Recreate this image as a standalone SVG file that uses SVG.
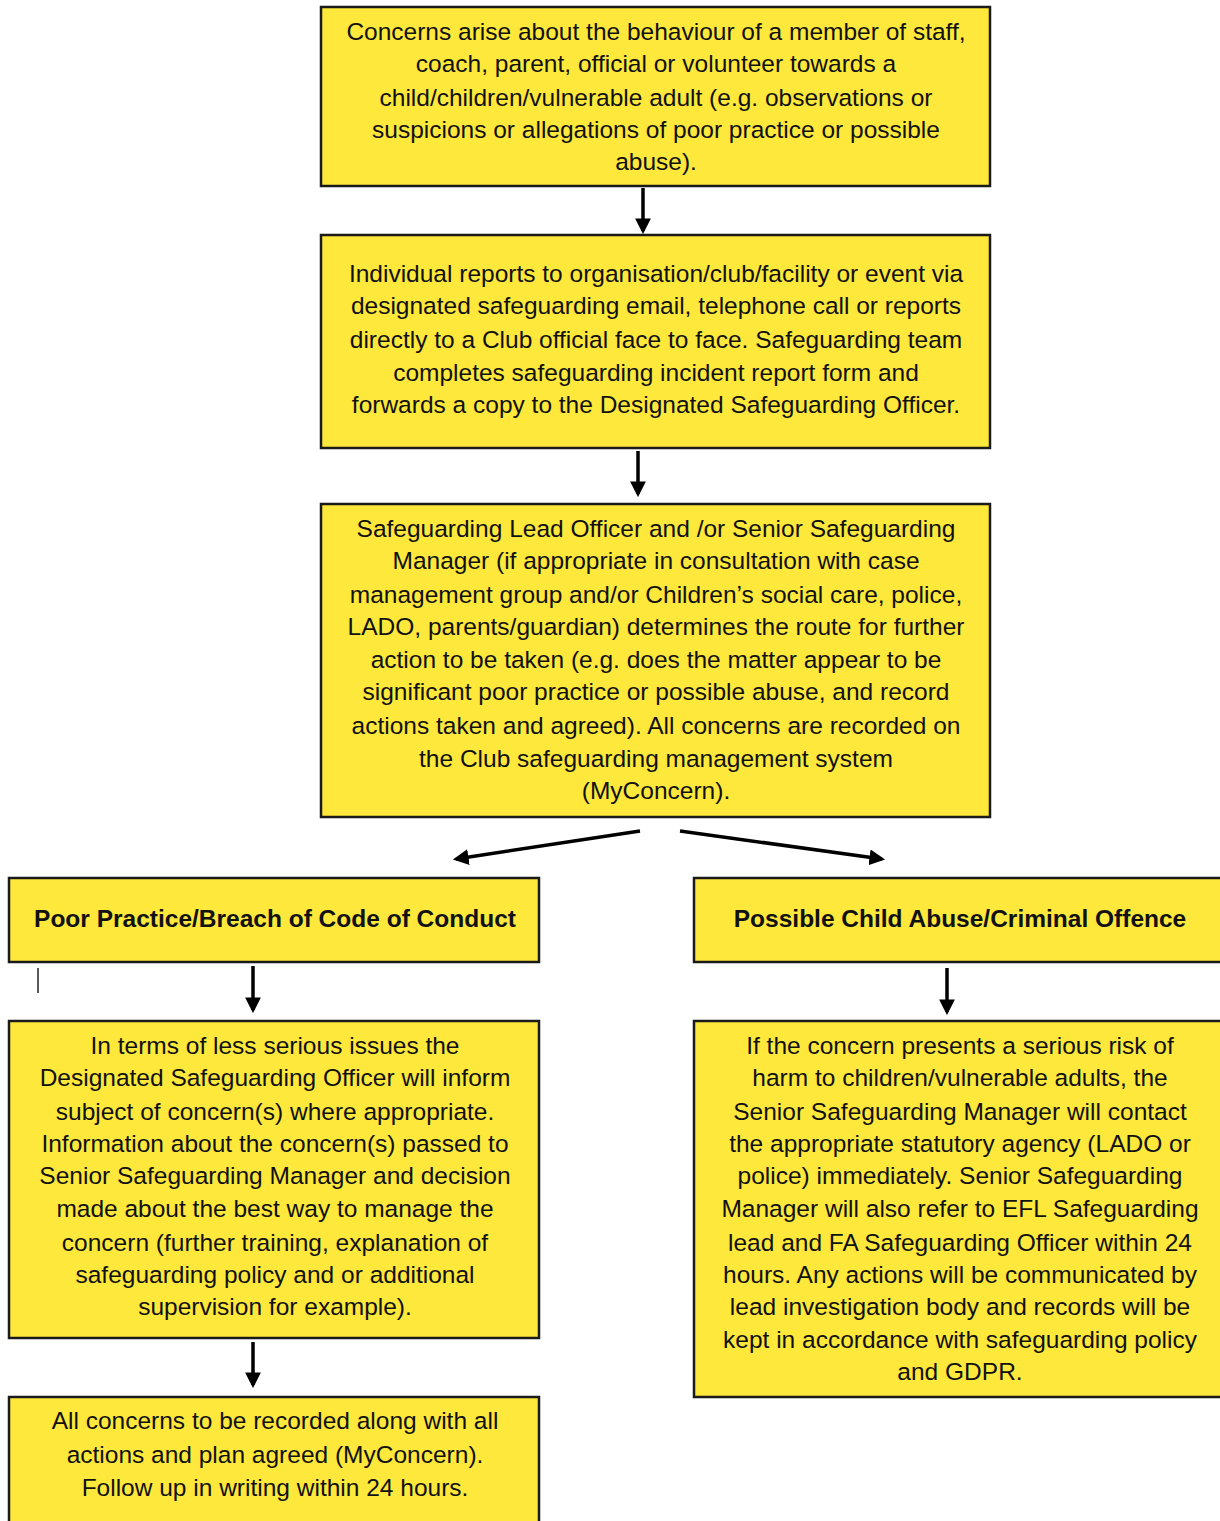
<svg xmlns="http://www.w3.org/2000/svg" width="1220" height="1521" viewBox="0 0 1220 1521">
<defs>
<style>
.box{fill:#FDE83B;stroke:#1a1a1a;stroke-width:2.5}
.t{font-family:"Liberation Sans",Arial,sans-serif;font-size:24.5px;fill:#111;text-anchor:middle}
.b{font-weight:bold}
.c{stroke:#000;stroke-width:3.5;fill:none}
</style>
<marker id="ah" viewBox="0 0 10 10" refX="8" refY="5" markerWidth="4.5" markerHeight="4.5" markerUnits="strokeWidth" orient="auto"><path d="M0,0 L10,5 L0,10 z" fill="#000"/></marker>
</defs>
<rect width="1220" height="1521" fill="#fff"/>
<g id="n1"><rect class="box" x="321" y="7" width="669" height="179"/>
<text class="t"><tspan x="656" y="40">Concerns arise about the behaviour of a member of staff,</tspan><tspan x="656" y="72">coach, parent, official or volunteer towards a</tspan><tspan x="656" y="106">child/children/vulnerable adult (e.g. observations or</tspan><tspan x="656" y="138">suspicions or allegations of poor practice or possible</tspan><tspan x="656" y="170">abuse).</tspan></text></g>
<g id="n2"><rect class="box" x="321" y="235" width="669" height="213"/>
<text class="t"><tspan x="656" y="282">Individual reports to organisation/club/facility or event via</tspan><tspan x="656" y="314">designated safeguarding email, telephone call or reports</tspan><tspan x="656" y="348">directly to a Club official face to face. Safeguarding team</tspan><tspan x="656" y="381">completes safeguarding incident report form and</tspan><tspan x="656" y="413">forwards a copy to the Designated Safeguarding Officer.</tspan></text></g>
<g id="n3"><rect class="box" x="321" y="504" width="669" height="313"/>
<text class="t"><tspan x="656" y="537">Safeguarding Lead Officer and /or Senior Safeguarding</tspan><tspan x="656" y="569">Manager (if appropriate in consultation with case</tspan><tspan x="656" y="603">management group and/or Children’s social care, police,</tspan><tspan x="656" y="635">LADO, parents/guardian) determines the route for further</tspan><tspan x="656" y="668">action to be taken (e.g. does the matter appear to be</tspan><tspan x="656" y="700">significant poor practice or possible abuse, and record</tspan><tspan x="656" y="734">actions taken and agreed). All concerns are recorded on</tspan><tspan x="656" y="767">the Club safeguarding management system</tspan><tspan x="656" y="799">(MyConcern).</tspan></text></g>
<g id="n4"><rect class="box" x="9" y="878" width="530" height="84"/>
<text class="t b"><tspan x="275" y="927">Poor Practice/Breach of Code of Conduct</tspan></text></g>
<g id="n5"><rect class="box" x="694" y="878" width="540" height="84"/>
<text class="t b"><tspan x="960" y="927">Possible Child Abuse/Criminal Offence</tspan></text></g>
<g id="n6"><rect class="box" x="9" y="1021" width="530" height="317"/>
<text class="t"><tspan x="275" y="1054">In terms of less serious issues the</tspan><tspan x="275" y="1086">Designated Safeguarding Officer will inform</tspan><tspan x="275" y="1120">subject of concern(s) where appropriate.</tspan><tspan x="275" y="1152">Information about the concern(s) passed to</tspan><tspan x="275" y="1184">Senior Safeguarding Manager and decision</tspan><tspan x="275" y="1217">made about the best way to manage the</tspan><tspan x="275" y="1251">concern (further training, explanation of</tspan><tspan x="275" y="1283">safeguarding policy and or additional</tspan><tspan x="275" y="1315">supervision for example).</tspan></text></g>
<g id="n7"><rect class="box" x="694" y="1021" width="540" height="376"/>
<text class="t"><tspan x="960" y="1054">If the concern presents a serious risk of</tspan><tspan x="960" y="1086">harm to children/vulnerable adults, the</tspan><tspan x="960" y="1120">Senior Safeguarding Manager will contact</tspan><tspan x="960" y="1152">the appropriate statutory agency (LADO or</tspan><tspan x="960" y="1184">police) immediately. Senior Safeguarding</tspan><tspan x="960" y="1217">Manager will also refer to EFL Safeguarding</tspan><tspan x="960" y="1251">lead and FA Safeguarding Officer within 24</tspan><tspan x="960" y="1283">hours. Any actions will be communicated by</tspan><tspan x="960" y="1315">lead investigation body and records will be</tspan><tspan x="960" y="1348">kept in accordance with safeguarding policy</tspan><tspan x="960" y="1380">and GDPR.</tspan></text></g>
<g id="n8"><rect class="box" x="9" y="1397" width="530" height="140"/>
<text class="t"><tspan x="275" y="1429">All concerns to be recorded along with all</tspan><tspan x="275" y="1463">actions and plan agreed (MyConcern).</tspan><tspan x="275" y="1496">Follow up in writing within 24 hours.</tspan></text></g>
<g id="connectors">
<line class="c" x1="643" y1="188" x2="643" y2="231" marker-end="url(#ah)"/>
<line class="c" x1="638" y1="451" x2="638" y2="494" marker-end="url(#ah)"/>
<line class="c" x1="640" y1="831" x2="456" y2="859" marker-end="url(#ah)"/>
<line class="c" x1="680" y1="831" x2="882" y2="859" marker-end="url(#ah)"/>
<line class="c" x1="253" y1="966" x2="253" y2="1010" marker-end="url(#ah)"/>
<line class="c" x1="947" y1="968" x2="947" y2="1012" marker-end="url(#ah)"/>
<line class="c" x1="253" y1="1342" x2="253" y2="1385" marker-end="url(#ah)"/>
<line x1="38" y1="968" x2="38" y2="993" stroke="#222" stroke-width="1.5"/>
</g>
</svg>
